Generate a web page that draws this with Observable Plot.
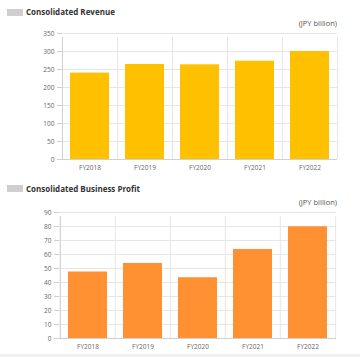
<!DOCTYPE html>
<html>
<head>
<meta charset="utf-8">
<script src="https://cdn.jsdelivr.net/npm/d3@7"></script>
<script src="https://cdn.jsdelivr.net/npm/@observablehq/plot@0.6"></script>
<style>
  html, body { margin: 0; padding: 0; background: #fff; }
  body { width: 360px; height: 357px; position: relative; overflow: hidden; font-family: "Open Sans", "Noto Sans", sans-serif; }
  .sq { position: absolute; left: 7px; width: 16px; height: 7px; background: #cfcfcf; }
  .ttl { position: absolute; left: 26px; font-size: 8px; font-weight: 700; color: #333; line-height: 10px; white-space: nowrap; }
  .unit { position: absolute; left: 280px; width: 57px; text-align: right; font-size: 7.5px; color: #555; line-height: 10px; white-space: nowrap; background: #fff; }
  .chart { position: absolute; left: 0; }
  .foot { position: absolute; left: 0; top: 354px; width: 360px; height: 3px; background: #f1f1f1; }
</style>
</head>
<body>
<div class="sq" style="top:9px"></div>
<div class="ttl" style="top:7px">Consolidated Revenue</div>
<div class="unit" style="top:18px">(JPY billion)</div>
<div class="chart" id="c1" style="top:28px"></div>

<div class="sq" style="top:185px"></div>
<div class="ttl" style="top:184px">Consolidated Business Profit</div>
<div class="unit" style="top:197px">(JPY billion)</div>
<div class="chart" id="c2" style="top:207px"></div>
<div class="foot"></div>

<script>
const years = ["FY2018", "FY2019", "FY2020", "FY2021", "FY2022"];
const revenue = [240, 264, 263, 273, 300];
const profit = [47.5, 53.6, 43.4, 63.6, 79.8];
const revenueTicks = [0, 50, 100, 150, 200, 250, 300, 350];
const profitTicks = [0, 10, 20, 30, 40, 50, 60, 70, 80, 90];

function makeChart(values, ticks, color, ml, mr) {
  const W = 360, H = 147, mt = 5, mb = 16;
  const data = years.map((y, i) => ({year: y, value: values[i]}));
  const step = (W - ml - mr) / years.length;
  const ymax = ticks[ticks.length - 1];
  const bounds = years.map((y) => ({year: y, side: -1})).concat([{year: years[years.length - 1], side: 1}]);
  return Plot.plot({
    width: W,
    height: H,
    marginLeft: ml,
    marginRight: mr,
    marginTop: mt,
    marginBottom: mb,
    style: {fontFamily: "'Open Sans', 'Noto Sans', sans-serif", fontSize: "6.5px", color: "#666", background: "#fff"},
    x: {domain: years, paddingInner: 0.29, paddingOuter: 0.145, label: null},
    y: {domain: [0, ymax], label: null},
    marks: [
      Plot.ruleY(ticks, {y: d => d, stroke: "#e6e6e6"}),
      ...bounds.map(b => Plot.ruleX([b], {x: "year", dx: b.side * step / 2, y1: 0, y2: ymax, stroke: "#e6e6e6", insetBottom: -4})),
      Plot.barY(data, {x: "year", y: "value", fill: color}),
      Plot.ruleY([0], {stroke: "#d0d0d0"}),
      Plot.ruleX([years[0]], {dx: -step / 2, y1: 0, y2: ymax, stroke: "#d0d0d0", insetBottom: -4}),
      Plot.axisY(ticks, {tickSize: 5, tickPadding: 3, stroke: "#d0d0d0", fill: "#666", label: null}),
      Plot.axisX({tickSize: 0, tickPadding: 6, fill: "#666", label: null})
    ]
  });
}

document.getElementById("c1").appendChild(makeChart(revenue, revenueTicks, "#FFC000", 62, 23));
document.getElementById("c2").appendChild(makeChart(profit, profitTicks, "#FF9133", 59, 24));
</script>
</body>
</html>
